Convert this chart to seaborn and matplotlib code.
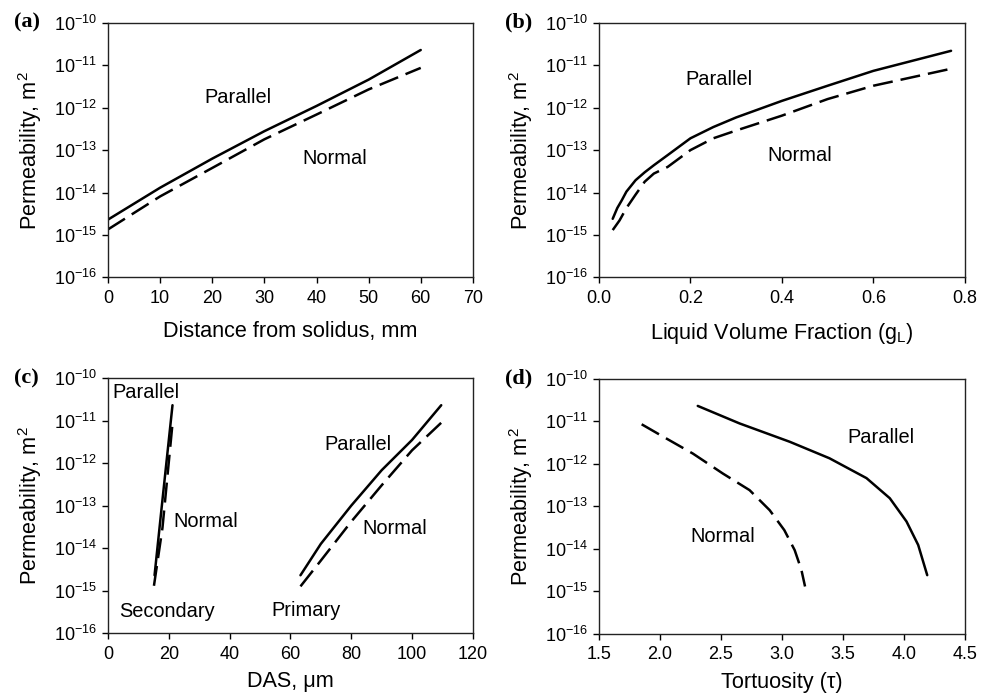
import matplotlib
matplotlib.use("Agg")
import matplotlib.pyplot as plt
import numpy as np
import pandas as pd
import seaborn as sns

# panel (a): distance from solidus, mm
a_x = [0, 10, 20, 30, 40, 50, 60]
a_par = [2.3e-15, 1.3e-14, 6.3e-14, 2.8e-13, 1.1e-12, 4.6e-12, 2.3e-11]
a_nor = [1.35e-15, 8.1e-15, 3.8e-14, 1.8e-13, 6.9e-13, 2.7e-12, 8.7e-12]

# panel (b): liquid volume fraction
b_x_par = [0.03, 0.04, 0.05, 0.06, 0.08, 0.10, 0.12, 0.15, 0.20, 0.25, 0.30, 0.40, 0.50, 0.60, 0.77]
b_par = [2.4e-15, 4.3e-15, 6.6e-15, 1.05e-14, 1.95e-14, 3.0e-14, 4.4e-14, 7.6e-14,
         1.9e-13, 3.5e-13, 5.9e-13, 1.45e-12, 3.3e-12, 7.4e-12, 2.2e-11]
b_x_nor = [0.03, 0.045, 0.06, 0.08, 0.10, 0.12, 0.15, 0.20, 0.25, 0.30, 0.40, 0.50, 0.60, 0.77]
b_nor = [1.3e-15, 2.2e-15, 4.3e-15, 8.9e-15, 1.8e-14, 2.8e-14, 4.0e-14, 1.0e-13,
         1.9e-13, 2.9e-13, 6.5e-13, 1.6e-12, 3.3e-12, 8.3e-12]

# panel (c): DAS, um (secondary and primary)
c_sec_x_par = [15.3, 17.7, 21.2]
c_sec_par = [2.3e-15, 1.0e-13, 2.3e-11]
c_sec_x_nor = [15.1, 17.9, 21.2]
c_sec_nor = [1.3e-15, 3.0e-14, 8.5e-12]
c_pri_x = [63.3, 70, 80, 90, 100, 109.6]
c_pri_par = [2.3e-15, 1.26e-14, 1.0e-13, 6.8e-13, 3.5e-12, 2.3e-11]
c_pri_nor = [1.26e-15, 5.1e-15, 4.2e-14, 3.0e-13, 2.0e-12, 8.9e-12]

# panel (d): tortuosity
d_x_par = [2.31, 2.653, 3.064, 3.39, 3.694, 3.885, 4.022, 4.118, 4.192]
d_par = [2.3e-11, 8.9e-12, 3.3e-12, 1.35e-12, 4.6e-13, 1.55e-13, 4.4e-14, 1.23e-14, 2.4e-15]
d_x_nor = [1.85, 2.023, 2.27, 2.516, 2.735, 2.90, 3.02, 3.105, 3.16, 3.19]
d_nor = [8.5e-12, 4.4e-12, 1.74e-12, 5.9e-13, 2.4e-13, 8.1e-14, 2.75e-14, 9.3e-15, 3.2e-15, 1.3e-15]

decades = [1e-16, 1e-15, 1e-14, 1e-13, 1e-12, 1e-11, 1e-10]
decade_labels = ["10$^{-16}$", "10$^{-15}$", "10$^{-14}$", "10$^{-13}$",
                 "10$^{-12}$", "10$^{-11}$", "10$^{-10}$"]

sns.set_style("ticks")
plt.rcParams["font.family"] = ["Liberation Sans", "DejaVu Sans"]
plt.rcParams["mathtext.default"] = "regular"
plt.rcParams["text.color"] = "black"
plt.rcParams["axes.labelcolor"] = "black"

DASH = (0, (8.0, 3.2))
LW = 1.8
TXT = 14.4
LAB = 15.6


def curve(ax, x, y, dashed=False):
    df = pd.DataFrame({"x": x, "y": y})
    ls = DASH if dashed else "-"
    sns.lineplot(data=df, x="x", y="y", ax=ax, color="black", lw=LW,
                 linestyle=ls, estimator=None, sort=False)


def style_axis(ax, tag, xlabel, xlim, xticks, xticklabels, xpad=10):
    ax.set_yscale("log")
    ax.set_ylim(1e-16, 1e-10)
    ax.set_yticks(decades)
    ax.set_yticklabels(decade_labels)
    ax.minorticks_off()
    ax.set_xlim(*xlim)
    ax.set_xticks(xticks)
    ax.set_xticklabels(xticklabels)
    ax.tick_params(labelsize=13, length=4, width=1, direction="out",
                   colors="black", labelcolor="black")
    ax.tick_params(axis="x", pad=5)
    ax.tick_params(axis="y", pad=4)
    ax.set_xlabel(xlabel, fontsize=LAB, labelpad=xpad)
    ax.set_ylabel("Permeability, m$^2$", fontsize=LAB, labelpad=7)
    for s in ax.spines.values():
        s.set_color("#222222")
        s.set_linewidth(1.0)
    ax.text(-0.258, 1.0, tag, transform=ax.transAxes, fontsize=16, fontweight="bold",
            family="Liberation Serif", ha="left", va="center")


fig = plt.figure(figsize=(9.94, 6.95), dpi=100)
ax_a = fig.add_axes([0.1087, 0.601, 0.367, 0.366])
ax_b = fig.add_axes([0.6026, 0.601, 0.368, 0.366])
ax_c = fig.add_axes([0.1087, 0.089, 0.367, 0.367])
ax_d = fig.add_axes([0.6026, 0.088, 0.368, 0.367])

# (a)
curve(ax_a, a_x, a_par)
curve(ax_a, a_x, a_nor, dashed=True)
style_axis(ax_a, "(a)", "Distance from solidus, mm", (0, 70),
           list(range(0, 71, 10)), [str(v) for v in range(0, 71, 10)])
ax_a.text(24.9, 10 ** -11.76, "Parallel", fontsize=TXT, ha="center", va="center")
ax_a.text(43.5, 10 ** -13.2, "Normal", fontsize=TXT, ha="center", va="center")

# (b)
curve(ax_b, b_x_par, b_par)
curve(ax_b, b_x_nor, b_nor, dashed=True)
style_axis(ax_b, "(b)", "Liquid Volume Fraction (g$_L$)", (0, 0.8),
           [0, 0.2, 0.4, 0.6, 0.8], ["0.0", "0.2", "0.4", "0.6", "0.8"])
ax_b.text(0.262, 10 ** -11.33, "Parallel", fontsize=TXT, ha="center", va="center")
ax_b.text(0.4385, 10 ** -13.12, "Normal", fontsize=TXT, ha="center", va="center")

# (c)
curve(ax_c, c_sec_x_par, c_sec_par)
curve(ax_c, c_sec_x_nor, c_sec_nor, dashed=True)
curve(ax_c, c_pri_x, c_pri_par)
curve(ax_c, c_pri_x, c_pri_nor, dashed=True)
style_axis(ax_c, "(c)", "DAS, \u03bcm", (0, 120),
           list(range(0, 121, 20)), [str(v) for v in range(0, 121, 20)], xpad=6)
ax_c.text(12.3, 10 ** -10.35, "Parallel", fontsize=TXT, ha="center", va="center")
ax_c.text(32.0, 10 ** -13.38, "Normal", fontsize=TXT, ha="center", va="center")
ax_c.text(19.5, 10 ** -15.5, "Secondary", fontsize=TXT, ha="center", va="center")
ax_c.text(82.2, 10 ** -11.57, "Parallel", fontsize=TXT, ha="center", va="center")
ax_c.text(94.2, 10 ** -13.55, "Normal", fontsize=TXT, ha="center", va="center")
ax_c.text(65.2, 10 ** -15.46, "Primary", fontsize=TXT, ha="center", va="center")

# (d)
curve(ax_d, d_x_par, d_par)
curve(ax_d, d_x_nor, d_nor, dashed=True)
style_axis(ax_d, "(d)", "Tortuosity (\u03c4)", (1.5, 4.5),
           [1.5, 2.0, 2.5, 3.0, 3.5, 4.0, 4.5],
           ["1.5", "2.0", "2.5", "3.0", "3.5", "4.0", "4.5"], xpad=6)
ax_d.text(3.815, 10 ** -11.38, "Parallel", fontsize=TXT, ha="center", va="center")
ax_d.text(2.519, 10 ** -13.7, "Normal", fontsize=TXT, ha="center", va="center")

fig.savefig("out.png", dpi=100)
